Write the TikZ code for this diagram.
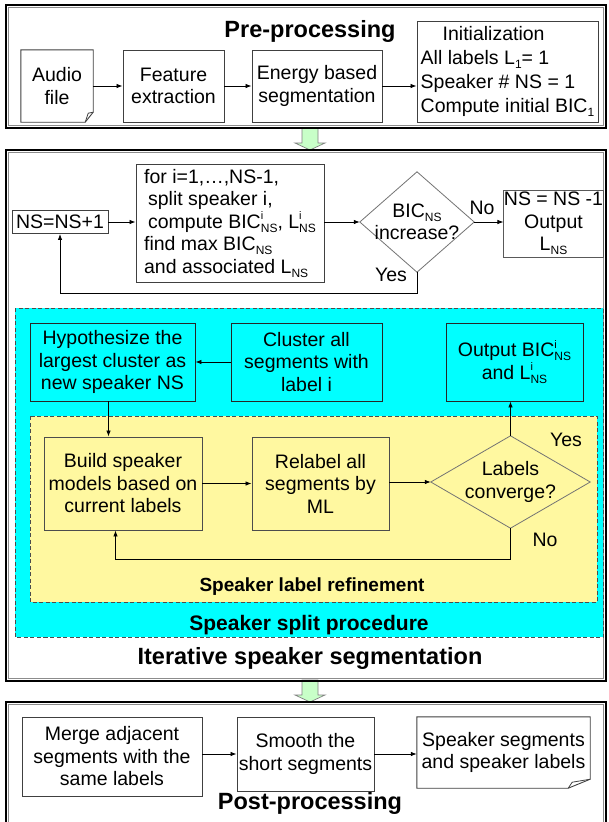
\documentclass[tikz,border=0pt]{standalone}
\usepackage{fontspec}
\setmainfont{Liberation Sans}
\usetikzlibrary{arrows.meta,calc}

\definecolor{splitcyan}{RGB}{0,255,255}
\definecolor{refineyellow}{RGB}{255,248,160}
\definecolor{stagegreen}{RGB}{200,255,200}

% small sub/superscripts set in text
\newcommand\lsub[1]{\raisebox{-4pt}{\fontsize{12}{12}\selectfont #1}}
\newcommand\lsupsub[2]{\rlap{\raisebox{8.5pt}{\fontsize{11}{11}\selectfont #1}}\raisebox{-4pt}{\fontsize{12}{12}\selectfont #2}}

\begin{document}
\begin{tikzpicture}[x=1pt,y=-1pt,
  body/.style={font=\fontsize{19.5}{22.5}\selectfont},
  stepbox/.style={body, draw=black!75, line width=0.9pt, fill=white, inner sep=0pt, align=center},
  docbox/.style={body, inner sep=0pt, align=center},
  docline/.style={draw=black!75, line width=0.9pt, fill=white},
  decision/.style={body, inner sep=0pt, align=center},
  decisionline/.style={draw=black!55, line width=0.8pt},
  arr/.style={line width=0.8pt, -{Latex[length=6pt,width=4.5pt]}},
  plain/.style={line width=0.8pt},
  stagetitle/.style={font=\fontsize{23.5}{26}\selectfont\bfseries, inner sep=0pt},
  regiontitle/.style={font=\fontsize{21}{24}\selectfont\bfseries, inner sep=0pt},
  subtitle/.style={font=\fontsize{19}{22}\selectfont\bfseries, inner sep=0pt},
  frame/.style={line width=2.2pt, draw=black},
  innerframe/.style={line width=0.7pt, draw=black!45},
  region/.style={draw=black!70, line width=0.8pt, dash pattern=on 4pt off 2.5pt},
  yn/.style={body, inner sep=0pt},
  stagearrow/.style={fill=stagegreen, draw=black!50, line width=0.7pt},
]

\clip (0,0) rectangle (608,822);
\fill[white] (0,0) rectangle (608,822);

% arrows between the three stages
\foreach \t in {128,680}
  \filldraw[stagearrow] (302,\t) -- (318,\t) -- (318,{\t+15}) -- (325,{\t+15})
    -- (310,{\t+22}) -- (295,{\t+15}) -- (302,{\t+15}) -- cycle;

% stage frames
\draw[frame] (6,5) rectangle (606,128);
\draw[innerframe] (8.5,7.5) rectangle (603.5,125.5);
\draw[frame] (6,150) rectangle (606,681);
\draw[innerframe] (8.5,152.5) rectangle (603.5,678.5);
\draw[frame] (6,702) rectangle (606,840);
\draw[innerframe] (8.5,704.5) rectangle (603.5,840);

% ---------------- Pre-processing ----------------
\node[stagetitle] (pretitle) at (310,31) {Pre-processing};

\node[docbox, minimum width=72pt, minimum height=72pt] (audio) at (57,86) {};
\draw[docline] (audio.north west) -- (audio.north east) -- ($(audio.south east)+(0,-10)$)
  -- ($(audio.south east)+(-8,0)$) -- (audio.south west) -- cycle;
\draw[plain, black!75] ($(audio.south east)+(-8,0)$) -- ($(audio.south east)+(-5,-9)$)
  -- ($(audio.south east)+(0,-10)$);
\node[docbox] (audiotext) at (audio.center) {Audio\\file};

\node[stepbox, minimum width=101pt, minimum height=72pt] (feat) at (173.5,86) {Feature\\extraction};
\node[stepbox, minimum width=130pt, minimum height=72pt] (energy) at (317,86) {Energy based\\segmentation};
\node[stepbox, minimum width=181pt, minimum height=101pt, align=left,
      font=\fontsize{19.5}{24}\selectfont] (init) at (507.5,71.5)
  {\hspace*{22pt}Initialization\\All labels L\lsub{1}= 1\\Speaker \# NS = 1\\Compute initial BIC\lsub{1}};

\draw[arr] (audio.east) -- (feat.west);
\draw[arr] (feat.east) -- (energy.west);
\draw[arr] (energy.east) -- (energy.east -| init.west);

% ---------------- Iterative speaker segmentation ----------------
\node[stagetitle] (itertitle) at (310,658) {Iterative speaker segmentation};

\node[stepbox, minimum width=96pt, minimum height=23pt] (ns) at (60,222) {NS=NS+1};
\node[stepbox, minimum width=188pt, minimum height=118pt, align=left] (fori) at (230,223)
  {for i=1,\dots,NS-1,\\\hspace*{4pt}split speaker i,\\\hspace*{4pt}compute BIC\lsupsub{i}{NS}, L\lsupsub{i}{NS}\\find max BIC\lsub{NS}\\and associated L\lsub{NS}};
\node[decision, minimum width=114pt, minimum height=100pt] (bic) at (417,222) {};
\draw[decisionline] (bic.north) -- (bic.east) -- (bic.south) -- (bic.west) -- cycle;
\node[decision] (bictext) at (bic.center) {BIC\lsub{NS}\\increase?};
\node[stepbox, draw=black!65, minimum width=99pt, minimum height=67pt] (nsm) at (553.5,223.5)
  {NS = NS -1\\Output\\L\lsub{NS}};

\draw[arr] (ns.east) -- (ns.east -| fori.west);
\draw[arr] (bic.west -| fori.east) -- (bic.west);
\draw[arr] (bic.east) -- (bic.east -| nsm.west);
\draw[arr] (bic.south) -- ++(0,21) -| (ns.south);
\node[yn] (bicno) at (482,208) {No};
\node[yn] (bicyes) at (391,275) {Yes};

% speaker split procedure
\filldraw[fill=splitcyan, region] (15,308) rectangle (603,637);
\node[regiontitle] (splittitle) at (309,625) {Speaker split procedure};

\node[stepbox, fill=splitcyan, draw=black!85, minimum width=165pt, minimum height=78pt] (hyp) at (112.5,362)
  {Hypothesize the\\largest cluster as\\new speaker NS};
\node[stepbox, fill=splitcyan, draw=black!85, minimum width=151pt, minimum height=78pt] (clus) at (306.5,362)
  {Cluster all\\segments with\\label i};
\node[stepbox, fill=splitcyan, draw=black!85, minimum width=137pt, minimum height=78pt] (outb) at (514.5,362)
  {Output BIC\lsupsub{i}{NS}\\and L\lsupsub{i}{NS}};
\draw[arr] (clus.west) -- (hyp.east);

% speaker label refinement
\filldraw[fill=refineyellow, region] (30,416) rectangle (597,602);
\node[subtitle] (refinetitle) at (312,587) {Speaker label refinement};

\node[stepbox, fill=refineyellow, draw=black!70, minimum width=158pt, minimum height=93pt] (build) at (123,483.5)
  {Build speaker\\models based on\\current labels};
\node[stepbox, fill=refineyellow, draw=black!70, minimum width=137pt, minimum height=93pt] (relab) at (320.5,483.5)
  {Relabel all\\segments by\\ML};
\node[decision, minimum width=159pt, minimum height=92pt] (conv) at (510.5,482) {};
\draw[decisionline] (conv.north) -- (conv.east) -- (conv.south) -- (conv.west) -- cycle;
\node[decision] (convtext) at (conv.center) {Labels\\converge?};

\draw[arr] ([xshift=-4pt]hyp.south) -- ([xshift=-4pt]hyp.south |- build.north);
\draw[arr] (build.east) -- (build.east -| relab.west);
\draw[arr] (relab.east |- conv.west) -- (conv.west);
\draw[arr] (conv.north) -- (conv.north |- outb.south);
\draw[arr] (conv.south) -- ++(0,31) -| ([xshift=-7.5pt]build.south);
\node[yn] (convyes) at (566,440) {Yes};
\node[yn] (convno) at (545,540) {No};

% ---------------- Post-processing ----------------
\node[stagetitle] (posttitle) at (310,803) {Post-processing};

\node[stepbox, minimum width=180pt, minimum height=79pt] (merge) at (112,756.5)
  {Merge adjacent\\segments with the\\same labels};
\node[stepbox, minimum width=137pt, minimum height=74pt] (smooth) at (305.5,754)
  {Smooth the\\short segments};
\node[docbox, minimum width=173pt, minimum height=71pt] (spk) at (503.5,752.5) {};
\draw[docline] (spk.north west) -- (spk.north east) -- ($(spk.south east)+(0,-9)$)
  -- ($(spk.south east)+(-22,0)$) -- (spk.south west) -- cycle;
\draw[plain, black!75] ($(spk.south east)+(-22,0)$) -- ($(spk.south east)+(-18,-6)$)
  -- ($(spk.south east)+(0,-9)$);
\node[docbox] (spktext) at (spk.center) {Speaker segments\\and speaker labels};

\draw[arr] (merge.east |- smooth.west) -- (smooth.west);
\draw[arr] (smooth.east) -- (smooth.east -| spk.west);

\end{tikzpicture}
\end{document}
